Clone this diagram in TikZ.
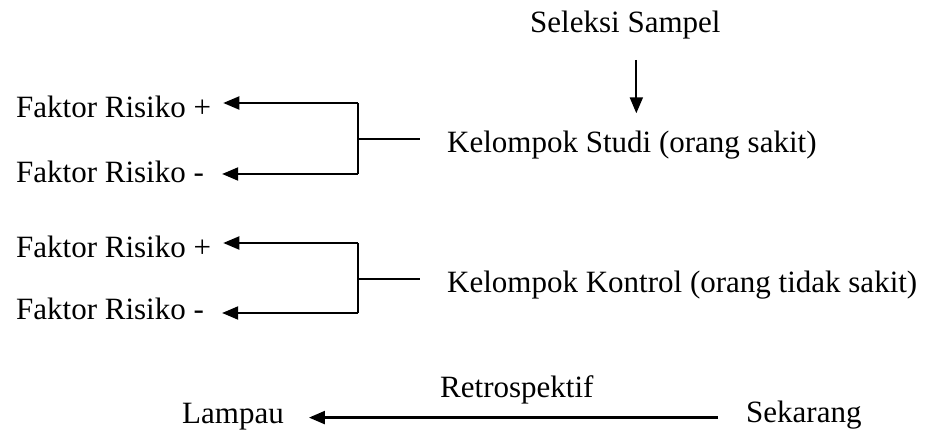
\documentclass[tikz,border=0pt]{standalone}
\usepackage{fontspec}
\setmainfont{Liberation Serif}
\usetikzlibrary{arrows.meta,positioning,calc}

\begin{document}
\begin{tikzpicture}[x=1pt,y=1pt,
    teks/.style={inner sep=0pt,anchor=base west,font=\fontsize{31}{37}\selectfont},
    garis/.style={line width=2pt},
    panah/.style={-{Triangle[length=16pt,width=13pt]},line width=2pt}
    ]
    \useasboundingbox (0,0) rectangle (929,431);

    \node[teks] (seleksi) at (530,398) {Seleksi Sampel};

    \node[teks] (fplus1) at (16,313) {Faktor Risiko +};
    \node[teks] (fmin1) at (16,248) {Faktor Risiko -};
    \node[teks] (studi) at (447,278) {Kelompok Studi (orang sakit)};

    \node[teks] (fplus2) at (16,173) {Faktor Risiko +};
    \node[teks] (fmin2) at (16,111) {Faktor Risiko -};
    \node[teks] (kontrol) at (447,138) {Kelompok Kontrol (orang tidak sakit)};

    \node[teks] (lampau) at (182,7) {Lampau};
    \node[teks] (retro) at (440,33) {Retrospektif};
    \node[teks] (sekarang) at (746,8) {Sekarang};

    % kurung kelompok
    \coordinate (atas1) at (358,328);
    \coordinate (bawah1) at (358,257);
    \coordinate (tengah1) at (358,292);
    \coordinate (atas2) at (358,188);
    \coordinate (bawah2) at (358,118);
    \coordinate (tengah2) at (358,152);

    \draw[panah] ([xshift=11pt,yshift=-20pt]seleksi.south) -- ([xshift=11pt,yshift=18pt]seleksi.south |- studi.north);

    \draw[garis] (atas1) -- (bawah1);
    \draw[garis] (tengah1) -- ([xshift=-27pt]studi.west |- tengah1);
    \draw[panah] (atas1) -- ([xshift=12pt]fplus1.east |- atas1);
    \draw[panah] (bawah1) -- ([xshift=18pt]fmin1.east |- bawah1);

    \draw[garis] (atas2) -- (bawah2);
    \draw[garis] (tengah2) -- ([xshift=-27pt]kontrol.west |- tengah2);
    \draw[panah] (atas2) -- ([xshift=12pt]fplus2.east |- atas2);
    \draw[panah] (bawah2) -- ([xshift=18pt]fmin2.east |- bawah2);

    \draw[panah,line width=2.4pt] ([xshift=-28pt,yshift=-2pt]sekarang.west) -- ([xshift=25pt,yshift=-2pt]lampau.east |- sekarang.west);

  \end{tikzpicture}
\end{document}
